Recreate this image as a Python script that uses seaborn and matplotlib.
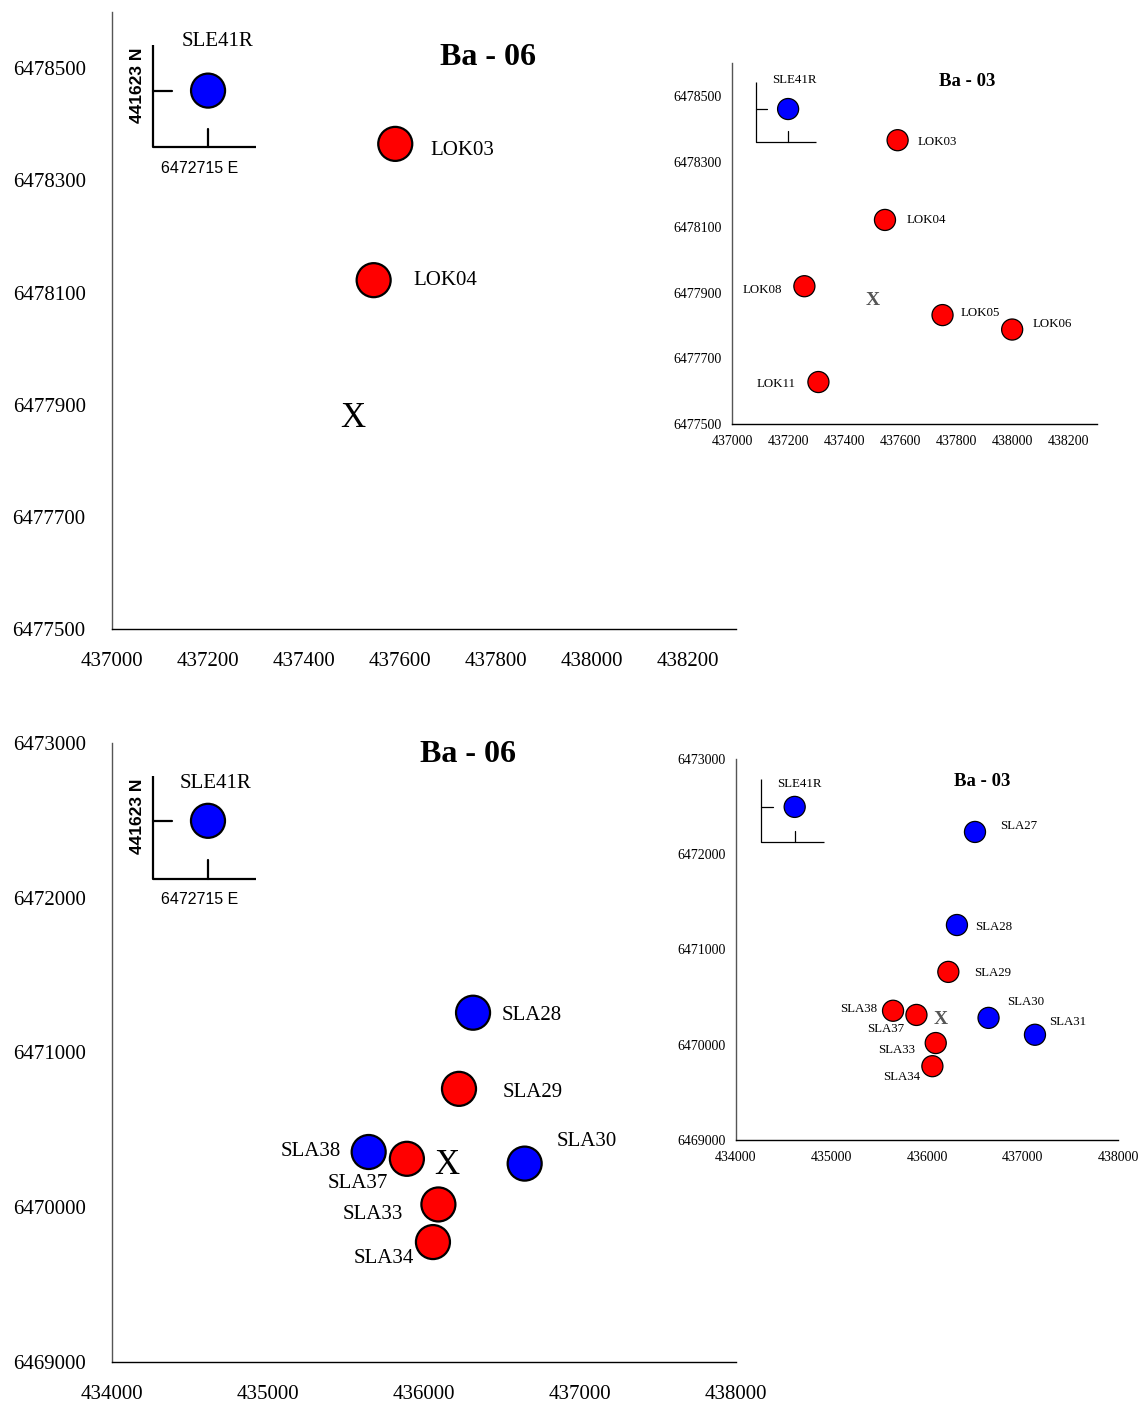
import matplotlib
matplotlib.use("Agg")
import matplotlib.pyplot as plt
import matplotlib.transforms as mtransforms
import numpy as np
import pandas as pd
import seaborn as sns

# ---------------------------------------------------------------- data
# LOK sampling points (easting, northing) and the reference station SLE41R
lok_names = ["SLE41R", "LOK03", "LOK04", "LOK08", "LOK05", "LOK06", "LOK11"]
lok_east = [437200, 437590, 437545, 437258, 437750, 437998, 437308]
lok_north = [6478460, 6478365, 6478122, 6477920, 6477832, 6477788, 6477628]
lok_ba03 = ["blue", "red", "red", "red", "red", "red", "red"]
lok_ba06 = ["blue", "red", "red", None, None, None, None]
lok_site = (437502, 6477876)

# SLA sampling points
sla_names = ["SLE41R", "SLA27", "SLA28", "SLA29", "SLA38", "SLA37",
             "SLA30", "SLA31", "SLA33", "SLA34"]
sla_east = [434615, 436503, 436314, 436224, 435645, 435890,
            436645, 437131, 436092, 436057]
sla_north = [6472497, 6472234, 6471257, 6470765, 6470357, 6470313,
             6470282, 6470105, 6470018, 6469775]
sla_ba03 = ["blue", "blue", "blue", "red", "red", "red",
            "blue", "blue", "red", "red"]
sla_ba06 = ["blue", None, "blue", "red", "blue", "red",
            "blue", None, "red", "red"]
sla_site = (436145, 6470270)

lok_xticks = [437000, 437200, 437400, 437600, 437800, 438000, 438200]
lok_yticks = [6477500, 6477700, 6477900, 6478100, 6478300, 6478500]
sla_xticks = [434000, 435000, 436000, 437000, 438000]
sla_yticks = [6469000, 6470000, 6471000, 6472000, 6473000]

ref_north_label = "441623 N"
ref_east_label = "6472715 E"

# ---------------------------------------------------------------- label placement (pixel offsets, alignment)
off_lok_big = {"SLE41R": (9, 52, "center"), "LOK03": (35, -4, "left"),
               "LOK04": (40, 2, "left")}
off_lok_small = {"SLE41R": (6, 31, "center"), "LOK03": (20, 0, "left"),
                 "LOK04": (22, 1, "left"), "LOK08": (-22, -2, "right"),
                 "LOK05": (18, 4, "left"), "LOK06": (20, 7, "left"),
                 "LOK11": (-23, 0, "right")}
off_sla_big = {"SLE41R": (8, 40, "center"), "SLA28": (29, 0, "left"),
               "SLA29": (44, -1, "left"), "SLA38": (-28, 3, "right"),
               "SLA37": (-19, -22, "right"), "SLA30": (32, 25, "left"),
               "SLA33": (-35, -8, "right"), "SLA34": (-19, -14, "right")}
off_sla_small = {"SLE41R": (5, 24, "center"), "SLA27": (25, 7, "left"),
                 "SLA28": (18, 0, "left"), "SLA29": (26, 0, "left"),
                 "SLA38": (-16, 3, "right"), "SLA37": (-12, -13, "right"),
                 "SLA30": (19, 17, "left"), "SLA31": (14, 14, "left"),
                 "SLA33": (-21, -5, "right"), "SLA34": (-12, -9, "right")}

sns.set_theme(style="white")
plt.rcParams["font.family"] = ["Liberation Serif", "DejaVu Serif"]
plt.rcParams["text.color"] = "black"
plt.rcParams["axes.labelcolor"] = "black"
plt.rcParams["xtick.color"] = "black"
plt.rcParams["ytick.color"] = "black"

PALETTE = {"red": "#ff0000", "blue": "#0000ff"}


def draw_panel(ax, names, east, north, colours, offsets, site, title,
               title_pos, xlim, xticks, ylim, yticks, big):
    df = pd.DataFrame({"name": names, "east": east, "north": north,
                       "colour": colours}).dropna(subset=["colour"])
    sns.scatterplot(data=df, x="east", y="north", hue="colour",
                    palette=PALETTE, s=600 if big else 230,
                    edgecolor="black", linewidth=1.6 if big else 0.9,
                    legend=False, ax=ax, zorder=3, clip_on=False)

    lab_fs = 15 if big else 9.3
    for _, r in df.iterrows():
        dx, dy, ha = offsets[r["name"]]
        ax.annotate(r["name"], (r["east"], r["north"]), xytext=(dx, dy),
                    textcoords="offset pixels", ha=ha, va="center_baseline",
                    fontsize=lab_fs, color="black")

    # site marker
    if big:
        ax.text(site[0], site[1], "X", ha="center", va="center",
                fontsize=25, color="black")
    else:
        ax.text(site[0], site[1], "X", ha="center", va="center",
                fontsize=14, color="#555555", fontweight="bold")

    ax.text(title_pos[0], title_pos[1], title, transform=ax.transAxes,
            ha="center", va="center", fontweight="bold", color="black",
            fontsize=23 if big else 13.5)

    # reference-station coordinate frame
    e0, n0 = east[0], north[0]
    lw = 1.6 if big else 0.9
    fl, fr, fb, ft = 0.066, 0.231, 0.781, 0.947
    ax.plot([fl, fl, fr], [ft, fb, fb], transform=ax.transAxes,
            color="black", lw=lw, solid_capstyle="butt", clip_on=False)
    ty = mtransforms.blended_transform_factory(ax.transAxes, ax.transData)
    ax.plot([fl, fl + 0.03], [n0, n0], transform=ty, color="black", lw=lw)
    tx = mtransforms.blended_transform_factory(ax.transData, ax.transAxes)
    ax.plot([e0, e0], [fb, fb + 0.03], transform=tx, color="black", lw=lw)
    if big:
        ax.text(0.04, 0.882, ref_north_label, transform=ax.transAxes,
                rotation=90, ha="center", va="center", fontsize=12.5,
                fontweight="bold", color="black",
                family=["Liberation Sans", "DejaVu Sans"])
        ax.text(0.141, 0.747, ref_east_label, transform=ax.transAxes,
                ha="center", va="center", fontsize=11.5, color="black",
                family=["Liberation Sans", "DejaVu Sans"])

    ax.set_xlim(*xlim)
    ax.set_ylim(*ylim)
    ax.set_xticks(xticks)
    ax.set_yticks(yticks)
    ax.set_xticklabels([str(v) for v in xticks])
    ax.set_yticklabels([str(v) for v in yticks])
    ax.set_xlabel("")
    ax.set_ylabel("")
    for s in ("top", "right"):
        ax.spines[s].set_visible(False)
    ax.spines["left"].set_color("#555555")
    ax.spines["bottom"].set_color("black")
    ax.spines["left"].set_linewidth(1.0)
    ax.spines["bottom"].set_linewidth(1.0)
    if big:
        ax.tick_params(axis="y", direction="out", length=5, width=1,
                       pad=14, labelsize=15, colors="black")
        ax.tick_params(axis="x", direction="inout", length=8, width=1,
                       pad=12.5, labelsize=15, colors="black")
    else:
        ax.tick_params(axis="y", direction="out", length=4, width=0.8,
                       pad=3.5, labelsize=10, colors="black")
        ax.tick_params(axis="x", direction="inout", length=6, width=0.8,
                       pad=5, labelsize=10, colors="black")
    ax.set_facecolor("white")


fig = plt.figure(figsize=(11.41, 14.05), dpi=100)
fig.patch.set_facecolor("white")

ax1 = fig.add_axes([0.0982, 0.5523, 0.5469, 0.4391])
ax2 = fig.add_axes([0.6415, 0.6982, 0.3199, 0.2569])
ax3 = fig.add_axes([0.0982, 0.0306, 0.5469, 0.4406])
ax4 = fig.add_axes([0.6450, 0.1886, 0.3348, 0.2712])

draw_panel(ax1, lok_names, lok_east, lok_north, lok_ba06, off_lok_big,
           lok_site, "Ba - 06", (0.603, 0.927), (437000, 438300),
           lok_xticks, (6477500, 6478600), lok_yticks, True)
draw_panel(ax2, lok_names, lok_east, lok_north, lok_ba03, off_lok_small,
           lok_site, "Ba - 03", (0.644, 0.950), (437000, 438300),
           lok_xticks, (6477500, 6478600), lok_yticks, False)
draw_panel(ax3, sla_names, sla_east, sla_north, sla_ba06, off_sla_big,
           sla_site, "Ba - 06", (0.571, 0.982), (434000, 438000),
           sla_xticks, (6469000, 6473000), sla_yticks, True)
draw_panel(ax4, sla_names, sla_east, sla_north, sla_ba03, off_sla_small,
           sla_site, "Ba - 03", (0.644, 0.942), (434000, 438000),
           sla_xticks, (6469000, 6473000), sla_yticks, False)

fig.savefig("out.png", dpi=100, facecolor="white")
